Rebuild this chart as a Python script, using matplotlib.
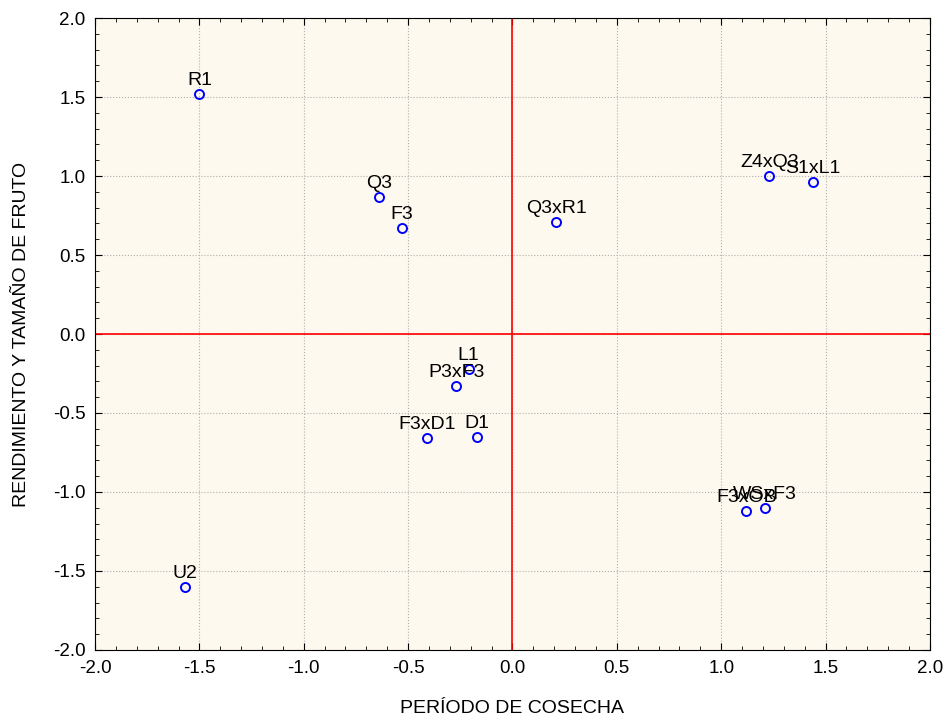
import matplotlib
matplotlib.use('Agg')
import matplotlib.pyplot as plt
from matplotlib.ticker import MultipleLocator, FormatStrFormatter

plt.rcParams['font.family'] = ['Liberation Sans', 'DejaVu Sans']
plt.rcParams['axes.unicode_minus'] = False

labels = ['R1', 'Q3', 'F3', 'Q3xR1', 'Z4xQ3', 'S1xL1', 'L1', 'P3xF3',
          'F3xD1', 'D1', 'F3xOB', 'WSxF3', 'U2']
x = [-1.50, -0.64, -0.53, 0.21, 1.23, 1.44, -0.21, -0.27,
     -0.41, -0.17, 1.12, 1.21, -1.57]
y = [1.52, 0.87, 0.67, 0.71, 1.00, 0.96, -0.22, -0.33,
     -0.66, -0.65, -1.12, -1.10, -1.60]

fig = plt.figure(figsize=(9.51, 7.21), dpi=100)
ax = fig.add_axes([0.0999, 0.0985, 0.878, 0.8765])
ax.set_facecolor('#fdf9ee')

ax.axhline(0, color='red', lw=1.2, zorder=2)
ax.axvline(0, color='red', lw=1.2, zorder=2)
ax.plot(x, y, 'o', mfc='none', mec='blue', mew=1.4, ms=6.5, zorder=3)
for lab, xi, yi in zip(labels, x, y):
    ax.annotate(lab, (xi, yi), xytext=(0, 6.5), textcoords='offset points',
                ha='center', va='baseline', fontsize=14, zorder=4)

ax.set_xlim(-2, 2)
ax.set_ylim(-2, 2)
ax.xaxis.set_major_locator(MultipleLocator(0.5))
ax.yaxis.set_major_locator(MultipleLocator(0.5))
ax.xaxis.set_minor_locator(MultipleLocator(0.1))
ax.yaxis.set_minor_locator(MultipleLocator(0.1))
ax.xaxis.set_major_formatter(FormatStrFormatter('%.1f'))
ax.yaxis.set_major_formatter(FormatStrFormatter('%.1f'))
ax.tick_params(which='both', direction='in', top=True, right=True,
               labelsize=13.5, colors='black', pad=7)
ax.tick_params(which='major', length=5)
ax.tick_params(which='minor', length=3)
ax.grid(True, which='major', color='#b0b0b0', ls=':', lw=0.8, zorder=1)
ax.set_axisbelow(True)

ax.set_xlabel('PERÍODO DE COSECHA', fontsize=14, labelpad=17)
ax.set_ylabel('RENDIMIENTO Y TAMAÑO DE FRUTO', fontsize=14, labelpad=16)

fig.savefig('out.png', dpi=100)
